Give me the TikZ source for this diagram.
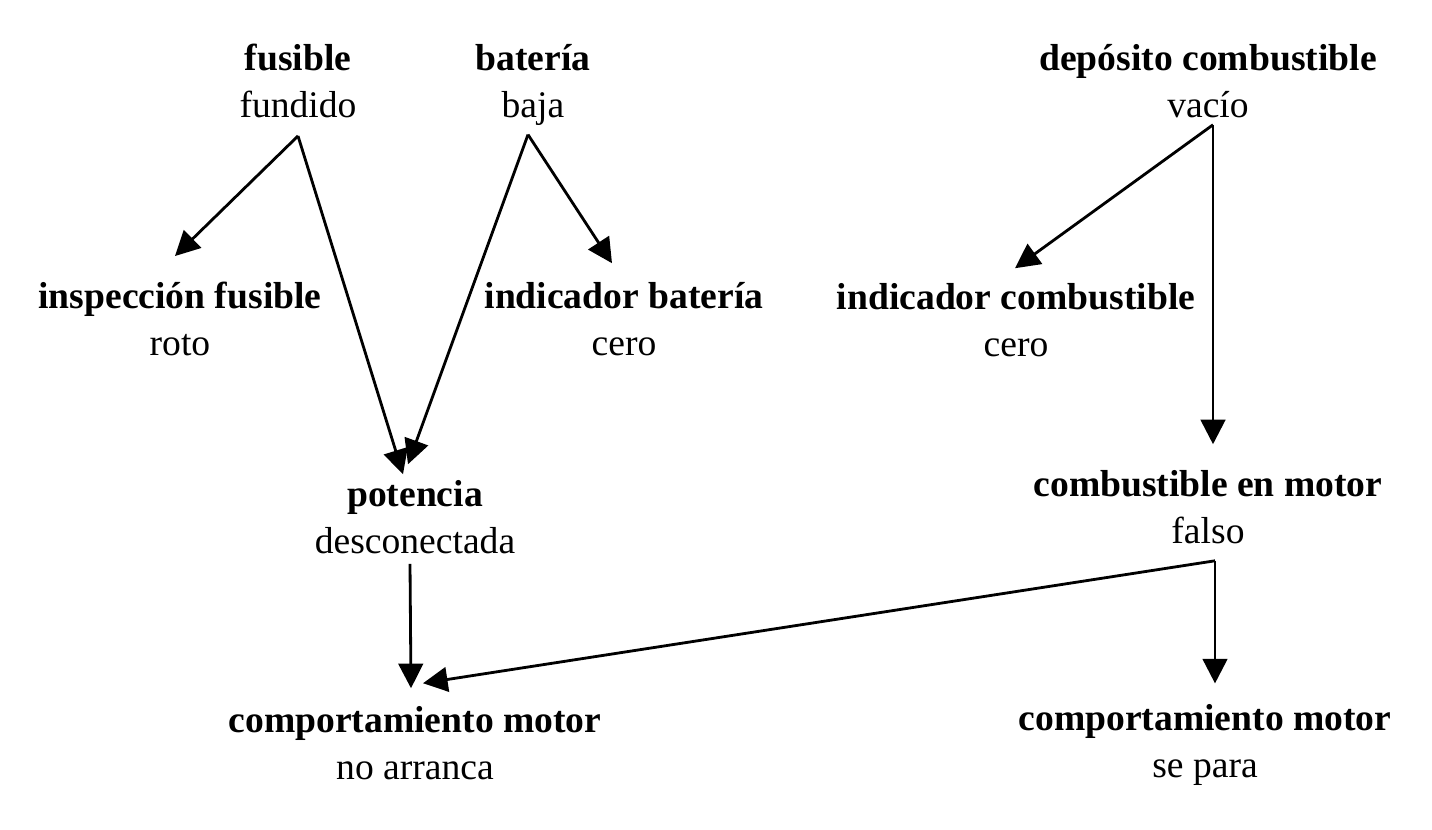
\documentclass[tikz,border=0pt]{standalone}
\usepackage{fontspec}
\setmainfont{Liberation Serif}
\usetikzlibrary{arrows.meta,positioning}
\tikzset{
  varbox/.style={align=center,inner sep=0pt,outer sep=0pt,
    font=\fontsize{21.4}{26.8}\selectfont},
  influence/.style={-{Triangle[length=14pt,width=14pt]},line width=1.6pt}
}
\begin{document}
\begin{tikzpicture}[x=0.02cm,y=-0.02cm]
  \useasboundingbox (0,0) rectangle (1432,829);
  % causes
  \node[varbox] (fus) at (298,81) {\textbf{fusible}\\fundido};
  \node[varbox] (bat) at (533,85) {\textbf{batería}\\baja};
  \node[varbox] (dep) at (1208,81) {\textbf{depósito combustible}\\vacío};
  % observations
  \node[varbox] (insp) at (180,319) {\textbf{inspección fusible}\\roto};
  \node[varbox] (indbat) at (624,319) {\textbf{indicador batería}\\cero};
  \node[varbox] (indcomb) at (1016,320) {\textbf{indicador combustible}\\cero};
  % intermediate
  \node[varbox] (pot) at (415,517) {\textbf{potencia}\\desconectada};
  \node[varbox] (combmot) at (1208,507) {\textbf{combustible en motor}\\falso};
  % behaviour
  \node[varbox] (compna) at (415,743) {\textbf{comportamiento motor}\\no arranca};
  \node[varbox] (compsp) at (1205,745) {\textbf{comportamiento motor}\\se para};
  % influences
  \draw[influence] ([shift={(0,18)}]fus.south) -- ([shift={(-5,-26)}]insp.north);
  \draw[influence] ([shift={(0,18)}]fus.south) -- ([shift={(-12,-6)}]pot.north);
  \draw[influence] ([shift={(-5,9)}]bat.south) -- ([shift={(-7,-16)}]pot.north);
  \draw[influence] ([shift={(-5,9)}]bat.south) -- ([shift={(-12,-19)}]indbat.north);
  \draw[influence] ([shift={(5,7)}]dep.south) -- ([shift={(-1,-15)}]indcomb.north);
  \draw[influence] ([shift={(5,7)}]dep.south) -- ([shift={(5,-26)}]combmot.north);
  \draw[influence] ([shift={(-5,10)}]pot.south) -- ([shift={(-4,-18)}]compna.north);
  \draw[influence] ([shift={(7,17)}]combmot.south) -- ([shift={(8,-23)}]compna.north);
  \draw[influence] ([shift={(7,17)}]combmot.south) -- ([shift={(10,-21)}]compsp.north);
\end{tikzpicture}
\end{document}
